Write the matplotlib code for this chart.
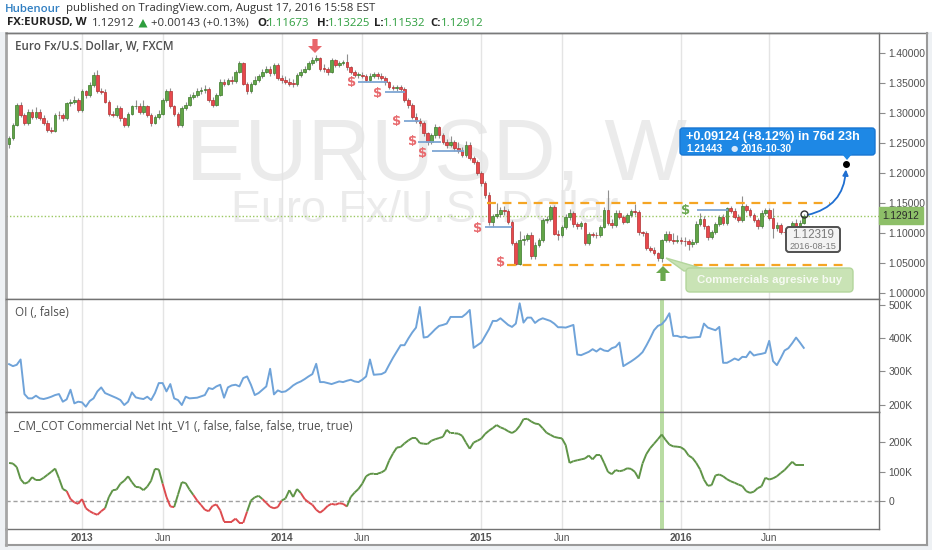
import numpy as np
import matplotlib
matplotlib.use("Agg")
import matplotlib.pyplot as plt
from matplotlib.transforms import Affine2D
from matplotlib.patches import FancyBboxPatch, Polygon, FancyArrowPatch, Rectangle
from matplotlib.collections import LineCollection
from matplotlib.lines import Line2D

# ---------------- data (weekly bars, Aug 2012 .. Aug 2016) ----------------
first_open = 1.249
last_open = 1.11673
closes = [1.258,1.280,1.313,1.297,1.283,1.302,1.294,1.302,1.291,1.284,
          1.272,1.270,1.297,1.296,1.291,1.316,1.319,1.322,1.305,1.336,
          1.330,1.347,1.363,1.336,1.335,1.319,1.299,1.297,1.308,1.291,
          1.280,1.299,1.311,1.312,1.302,1.311,1.297,1.283,1.293,1.299,
          1.322,1.336,1.311,1.299,1.280,1.308,1.313,1.327,1.330,1.336,
          1.338,1.340,1.322,1.313,1.330,1.352,1.349,1.355,1.353,1.369,
          1.383,1.349,1.336,1.349,1.355,1.361,1.369,1.374,1.366,1.380,
          1.358,1.355,1.352,1.349,1.348,1.363,1.369,1.374,1.383,1.388,
          1.391,1.374,1.373,1.369,1.388,1.380,1.383,1.385,1.376,1.369,
          1.363,1.364,1.362,1.355,1.362,1.365,1.361,1.359,1.351,1.344,
          1.342,1.343,1.340,1.322,1.313,1.294,1.286,1.283,1.266,1.251,
          1.263,1.276,1.263,1.252,1.247,1.252,1.241,1.236,1.230,1.247,
          1.225,1.219,1.200,1.183,1.164,1.119,1.128,1.131,1.139,1.136,
          1.119,1.083,1.049,1.088,1.090,1.097,1.061,1.080,1.088,1.122,
          1.124,1.144,1.099,1.097,1.110,1.127,1.134,1.115,1.111,1.116,
          1.083,1.098,1.097,1.096,1.110,1.138,1.117,1.113,1.134,1.127,
          1.119,1.130,1.137,1.135,1.101,1.100,1.075,1.072,1.066,1.058,
          1.088,1.098,1.089,1.087,1.088,1.087,1.086,1.081,1.085,1.115,
          1.124,1.111,1.093,1.101,1.115,1.126,1.117,1.141,1.137,1.127,
          1.122,1.145,1.139,1.130,1.122,1.111,1.133,1.138,1.125,1.108,
          1.113,1.102,1.101,1.097,1.116,1.111,1.117,1.12912]
highs = [1.262,1.284,1.317,1.318,1.300,1.306,1.306,1.310,1.306,1.296,
         1.288,1.277,1.300,1.303,1.300,1.318,1.323,1.329,1.325,1.340,
         1.338,1.351,1.368,1.371,1.342,1.340,1.322,1.304,1.313,1.311,
         1.294,1.302,1.314,1.321,1.316,1.321,1.314,1.300,1.297,1.305,
         1.325,1.340,1.341,1.314,1.302,1.311,1.318,1.331,1.335,1.341,
         1.343,1.346,1.343,1.326,1.334,1.356,1.357,1.359,1.361,1.372,
         1.386,1.385,1.352,1.352,1.361,1.365,1.373,1.378,1.379,1.384,
         1.383,1.364,1.361,1.358,1.357,1.366,1.373,1.378,1.387,1.393,
         1.397,1.394,1.381,1.377,1.391,1.390,1.387,1.389,1.399,1.379,
         1.372,1.368,1.368,1.365,1.366,1.369,1.368,1.366,1.362,1.353,
         1.347,1.347,1.346,1.343,1.325,1.316,1.300,1.292,1.286,1.269,
         1.267,1.281,1.279,1.266,1.256,1.262,1.255,1.252,1.244,1.253,
         1.251,1.228,1.222,1.203,1.186,1.168,1.132,1.150,1.143,1.145,
         1.140,1.122,1.086,1.104,1.096,1.100,1.101,1.085,1.092,1.125,
         1.128,1.147,1.147,1.105,1.114,1.131,1.140,1.137,1.119,1.120,
         1.119,1.101,1.102,1.101,1.114,1.143,1.171,1.124,1.138,1.138,
         1.130,1.134,1.140,1.149,1.138,1.104,1.103,1.078,1.076,1.069,
         1.090,1.104,1.103,1.100,1.096,1.094,1.093,1.090,1.090,1.120,
         1.134,1.128,1.114,1.105,1.118,1.130,1.131,1.144,1.145,1.141,
         1.131,1.162,1.149,1.142,1.133,1.125,1.138,1.142,1.141,1.142,
         1.118,1.116,1.106,1.104,1.120,1.123,1.121,1.13225]
lows = [1.241,1.255,1.278,1.293,1.280,1.280,1.290,1.290,1.288,1.280,
        1.268,1.267,1.268,1.290,1.287,1.289,1.312,1.315,1.301,1.302,
        1.325,1.327,1.343,1.334,1.331,1.316,1.295,1.293,1.294,1.287,
        1.276,1.277,1.296,1.306,1.298,1.299,1.293,1.279,1.281,1.290,
        1.297,1.319,1.308,1.295,1.276,1.276,1.305,1.311,1.324,1.327,
        1.332,1.334,1.318,1.310,1.311,1.328,1.345,1.346,1.349,1.350,
        1.366,1.347,1.332,1.333,1.346,1.352,1.358,1.366,1.362,1.363,
        1.355,1.350,1.348,1.345,1.343,1.345,1.360,1.366,1.371,1.380,
        1.385,1.370,1.369,1.364,1.366,1.377,1.377,1.380,1.372,1.365,
        1.360,1.359,1.358,1.351,1.352,1.359,1.357,1.355,1.347,1.340,
        1.338,1.337,1.336,1.318,1.309,1.290,1.283,1.279,1.262,1.247,
        1.248,1.259,1.259,1.248,1.242,1.244,1.237,1.233,1.226,1.227,
        1.221,1.215,1.196,1.178,1.158,1.114,1.110,1.125,1.127,1.130,
        1.115,1.080,1.046,1.047,1.080,1.086,1.057,1.056,1.077,1.085,
        1.117,1.120,1.097,1.088,1.094,1.107,1.122,1.110,1.106,1.107,
        1.080,1.080,1.094,1.092,1.093,1.108,1.113,1.109,1.110,1.123,
        1.115,1.116,1.127,1.130,1.097,1.095,1.072,1.068,1.063,1.054,
        1.052,1.085,1.085,1.082,1.083,1.082,1.078,1.071,1.077,1.082,
        1.111,1.106,1.089,1.090,1.098,1.112,1.113,1.114,1.133,1.123,
        1.118,1.119,1.135,1.126,1.118,1.107,1.108,1.130,1.121,1.091,
        1.103,1.098,1.096,1.095,1.094,1.107,1.108,1.11532]

# Open interest (thousands)
oi = [322,316,320,336,232,219,219,227,219,217,
      220,224,229,232,209,216,245,204,209,207,
      194,211,219,240,252,235,230,225,220,214,
      199,209,237,222,219,217,224,214,235,265,
      265,240,262,219,214,199,224,219,220,221,
      225,229,250,247,255,260,221,252,258,260,
      255,280,285,260,229,235,245,255,308,231,
      243,238,240,248,258,265,270,277,285,292,
      323,268,268,265,262,266,270,268,272,275,
      270,268,275,285,336,290,291,292,298,320,
      341,360,379,379,399,417,432,494,402,404,
      415,427,437,440,444,464,464,464,464,473,
      485,371,379,387,407,427,452,452,460,450,
      440,434,444,505,447,462,462,446,455,460,
      456,452,444,433,433,432,436,440,351,349,
      354,359,367,360,369,363,361,370,374,387,
      316,323,330,338,347,358,378,400,424,437,
      442,455,475,407,407,403,405,401,402,403,
      404,444,432,428,424,434,326,326,332,339,
      334,344,343,360,348,351,353,356,392,331,
      319,340,363,370,385,402,387,371]

# Commercial net positions (thousands)
cot = [130,128,116,75,60,65,82,72,72,80,
       90,100,111,78,42,35,8,-3,-8,8,
       -23,-33,-40,-45,-33,-23,15,38,40,60,
       70,85,65,49,48,38,50,70,110,108,
       60,15,-17,-19,23,65,62,40,22,3,
       -12,-28,-33,-15,-10,-30,-68,-68,-68,-58,
       -72,-72,-34,3,14,19,8,-5,-18,-23,
       -19,3,10,38,15,42,28,8,-3,-11,
       -28,-38,-28,-15,-8,-11,-6,-8,-17,15,
       30,42,60,85,93,94,94,98,106,138,
       162,182,184,196,206,214,214,197,195,194,
       205,210,214,218,242,230,230,229,222,199,
       178,199,205,212,228,239,248,258,250,245,
       237,231,239,255,278,279,270,263,261,247,
       232,225,218,215,213,190,130,136,139,142,
       145,155,142,157,157,130,100,92,106,102,
       105,112,110,100,77,128,160,180,195,210,
       226,208,192,186,185,183,174,155,147,130,
       108,74,53,55,88,91,85,75,68,63,
       57,52,35,29,33,45,51,80,74,78,
       85,96,106,120,134,122,122,122]
cot_red_spans = [(16, 25), (41, 43), (49, 62), (67, 71), (77, 88)]

tick_idx = [19, 40, 71, 92, 123, 144, 175, 198]
tick_lbl = ['2013', 'Jun', '2014', 'Jun', '2015', 'Jun', '2016', 'Jun']
price_ticks = [1.00, 1.05, 1.10, 1.15, 1.20, 1.25, 1.30, 1.35, 1.40]
oi_ticks = [200, 300, 400, 500]
cot_ticks = [0, 100, 200]

# signal annotations (bar index, price)
sell_idx = [89.3, 96.1, 101.0, 105.0, 107.8, 122.1, 127.9]
sell_px = [1.350, 1.333, 1.285, 1.252, 1.233, 1.108, 1.050]
buy_idx = [176.3]
buy_px = [1.137]
stop_lines = [(90.9, 98.4, 1.352), (97.9, 103.1, 1.335), (102.9, 107.0, 1.287),
              (106.5, 112.5, 1.252), (110.2, 118.5, 1.236), (124.0, 131.0, 1.110),
              (179.2, 187.2, 1.138)]
range_top, range_top_span = 1.1495, (124.5, 213.8)
range_bot, range_bot_span = 1.047, (129.7, 217.7)
highlight_bar = 170
target_idx, target_px = 218, 1.21443

# ---------------- figure ----------------
plt.rcParams['font.family'] = ['Liberation Sans', 'DejaVu Sans']
W, H = 932, 550
fig = plt.figure(figsize=(W / 100, H / 100), dpi=100)
fig.patch.set_facecolor('#eef1f4')
PX = Affine2D().scale(0.01, -0.01).translate(0, H / 100) + fig.dpi_scale_trans

fig.add_artist(Rectangle((0, 0), W, 32, transform=PX, fc='white', ec='none', zorder=-10))
fig.add_artist(Rectangle((6, 33), 921, 512, transform=PX, fc='white', ec='none', zorder=-10))

ax1 = fig.add_axes([6 / W, 1 - 299 / H, 873 / W, 266 / H])
ax2 = fig.add_axes([6 / W, 1 - 412 / H, 873 / W, 113 / H])
ax3 = fig.add_axes([6 / W, 1 - 529 / H, 873 / W, 117 / H])

for ax in (ax1, ax2, ax3):
    ax.set_xlim(-0.8, 226.6)
    ax.set_facecolor('white')
    for s in ax.spines.values():
        s.set_color('#737373')
        s.set_linewidth(1.0)
    ax.spines['left'].set_color('#a6a6a6')
    ax.spines['left'].set_linewidth(2.0)
    ax.yaxis.tick_right()
    ax.tick_params(axis='y', direction='out', length=4, width=0.8, color='#8c8c8c',
                   labelsize=7.4, labelcolor='#505050', pad=3)
    ax.set_xticks(tick_idx)
    ax.tick_params(axis='x', length=0, labelbottom=False)
    ax.grid(axis='x', color='#e4e4e4', lw=1)
    ax.set_axisbelow(True)

# ---- main price panel ----
x = np.arange(len(closes))
o = np.array([first_open] + closes[:-1])
o[-1] = last_open
c = np.array(closes)
h = np.maximum(np.array(highs), np.maximum(o, c))
l = np.minimum(np.array(lows), np.minimum(o, c))
up = c >= o

ax1.set_ylim(0.99, 1.4333)
ax1.set_yticks(price_ticks)
ax1.set_yticklabels(['%.5f' % v for v in price_ticks])

ax1.text(437, 180, 'EURUSD, W', transform=PX, fontsize=63, color='#ebebeb',
         ha='center', va='baseline', zorder=0)
ax1.text(425, 222, 'Euro Fx/U.S. Dollar', transform=PX, fontsize=32.4, color='#ebebeb',
         ha='center', va='baseline', zorder=0)

ax1.vlines(x, l, h, color='#8f8f8f', lw=0.8, zorder=3)
body_bot = np.minimum(o, c)
body_h = np.maximum(np.abs(c - o), 0.0012)
ax1.bar(x[up], body_h[up], bottom=body_bot[up], width=0.7, color='#62a447',
        edgecolor='#3b7a2a', lw=0.5, zorder=4)
ax1.bar(x[~up], body_h[~up], bottom=body_bot[~up], width=0.7, color='#e8484c',
        edgecolor='#b23030', lw=0.5, zorder=4)

ax1.axhline(c[-1], color='#9bc862', ls=(0, (1, 1.5)), lw=1.0, zorder=2)

ax1.hlines(range_top, *range_top_span, color='#f5a524', lw=1.6, ls=(0, (4, 3)), zorder=5)
ax1.hlines(range_bot, *range_bot_span, color='#f5a524', lw=1.6, ls=(0, (4, 3)), zorder=5)

for a, b, lev in stop_lines:
    ax1.hlines(lev, a, b, color='#7ea6d3', lw=1.3, zorder=5)
for xi, yi in zip(sell_idx, sell_px):
    ax1.text(xi, yi, '$', color='#e86a6e', fontsize=9.5, fontweight='bold',
             family='DejaVu Sans', ha='center', va='center', zorder=6)
for xi, yi in zip(buy_idx, buy_px):
    ax1.text(xi, yi, '$', color='#6aa84f', fontsize=9.5, fontweight='bold',
             family='DejaVu Sans', ha='center', va='center', zorder=6)

ax1.text(15, 46, 'Euro Fx/U.S. Dollar, W, FXCM', transform=PX, fontsize=8.4,
         family='Open Sans', fontweight='semibold', color='#4f4f4f', va='center', ha='left')


def arrow_poly(cx, tip, base, tail, half_head=7.0, half_stem=2.6):
    return [(cx - half_stem, tail), (cx + half_stem, tail), (cx + half_stem, base),
            (cx + half_head, base), (cx, tip), (cx - half_head, base), (cx - half_stem, base)]


fig.add_artist(Polygon(arrow_poly(315, 53, 46, 39), closed=True, transform=PX,
               fc='#e8666b', ec='none'))
fig.add_artist(Polygon(arrow_poly(663, 266, 273, 281), closed=True, transform=PX,
               fc='#6aa84f', ec='none'))

# projection arrow and callout
ax1.add_patch(FancyArrowPatch((x[-1] + 0.3, c[-1]), (target_idx, target_px - 0.004),
              connectionstyle='arc3,rad=0.4', arrowstyle='-|>', mutation_scale=8,
              color='#1f6fd1', lw=1.3, zorder=7))
ax1.plot([target_idx], [target_px], 'o', color='black', ms=4, zorder=8)
ax1.plot([x[-1]], [c[-1] + 0.002], 'o', mfc='none', mec='#333', ms=5, mew=1, zorder=8)

fig.add_artist(FancyBboxPatch((680, 128), 195, 27, transform=PX,
               boxstyle='round,pad=0,rounding_size=3', fc='#1e88e5', ec='#1976d2', lw=1))
fig.add_artist(Polygon([(842, 154), (852, 154), (847, 160)], closed=True, transform=PX,
               fc='#1e88e5', ec='none'))
fig.text(686, 137, '+0.09124 (+8.12%) in 76d 23h', transform=PX, fontsize=9.1,
         fontweight='bold', color='white', va='center', ha='left')
fig.text(686, 149, '1.21443', transform=PX, fontsize=7.2, fontweight='bold',
         color='white', va='center', ha='left')
fig.text(731, 149, '\u25cf', transform=PX, fontsize=6, family='DejaVu Sans',
         color='#d6e8fb', va='center', ha='left')
fig.text(741, 149, '2016-10-30', transform=PX, fontsize=7.2, fontweight='bold',
         color='white', va='center', ha='left')

# last bar info box
fig.add_artist(FancyBboxPatch((786, 227), 54, 25, transform=PX,
               boxstyle='round,pad=0,rounding_size=3', fc='#f3f3f3', ec='#505050', lw=1.4))
fig.text(813, 235, '1.12319', transform=PX, fontsize=8.4, color='#7a7a7a',
         va='center', ha='center')
fig.text(813, 246.5, '2016-08-15', transform=PX, fontsize=6.6, color='#7a7a7a',
         va='center', ha='center')

# commercials callout
fig.add_artist(Polygon([(666, 258), (684, 271), (704, 269)], closed=True, transform=PX,
               fc='#c9e3b5', ec='#b3d69c', lw=1))
fig.add_artist(FancyBboxPatch((686, 268), 167, 24, transform=PX,
               boxstyle='round,pad=0,rounding_size=4', fc='#c9e3b5', ec='#b3d69c', lw=1))
fig.text(769.5, 280, 'Commercials agresive buy', transform=PX, fontsize=8.2,
         fontweight='bold', color='#f6faf2', va='center', ha='center')

# last price tag
ax1.text(1.004, c[-1], '%.5f' % c[-1], transform=ax1.get_yaxis_transform(),
         fontsize=7.4, color='#2b2b2b', va='center', ha='left', zorder=10,
         bbox=dict(boxstyle='square,pad=0.32', fc='#8dbf68', ec='#8dbf68'))

# ---- OI panel ----
ax2.set_ylim(178, 518)
ax2.set_yticks(oi_ticks)
ax2.set_yticklabels(['%dK' % v for v in oi_ticks])
ax2.axvspan(highlight_bar - 0.4, highlight_bar + 0.5, color='#b9dca3', lw=0, zorder=1)
ax2.plot(x, oi, color='#6fa3d9', lw=1.4, zorder=3)
ax2.text(15, 313, 'OI (, false)', transform=PX, fontsize=8.4, family='Open Sans',
         color='#4f4f4f', va='center', ha='left')

# ---- COT panel ----
ax3.set_ylim(-93, 302)
ax3.set_yticks(cot_ticks)
ax3.set_yticklabels(['0' if v == 0 else '%dK' % v for v in cot_ticks])
ax3.axvspan(highlight_bar - 0.4, highlight_bar + 0.5, color='#b9dca3', lw=0, zorder=1)
ax3.axhline(0, color='#a0a0a0', lw=1, ls=(0, (3, 2)), zorder=2)
red_set = set()
for a, b in cot_red_spans:
    red_set.update(range(a, b + 1))
pts = np.column_stack([x, np.array(cot, dtype=float)])
segs = np.stack([pts[:-1], pts[1:]], axis=1)
cols = ['#dd4b4f' if (k + 1) in red_set else '#5f9447' for k in range(len(segs))]
ax3.add_collection(LineCollection(segs, colors=cols, lw=1.4, zorder=3))
ax3.text(13, 426, '_CM_COT Commercial Net Int_V1 (, false, false, false, true, true)',
         transform=PX, fontsize=8.4, family='Open Sans', color='#4f4f4f',
         va='center', ha='left')

ax3.tick_params(axis='x', labelbottom=True, labelsize=7.4, labelcolor='#555555', pad=3)
ax3.set_xticklabels(tick_lbl)
for t, s in zip(ax3.get_xticklabels(), tick_lbl):
    if s != 'Jun':
        t.set_fontweight('bold')

# frame lines
for (x0, y0, x1, y1, col, lw) in [(6, 33, 927, 33, '#7a7a7a', 1.0),
                                  (6, 545, 927, 545, '#9a9a9a', 1.5),
                                  (927, 33, 927, 545, '#9a9a9a', 1.5),
                                  (6, 529, 6, 545, '#a6a6a6', 2.0)]:
    fig.add_artist(Line2D([x0, x1], [y0, y1], transform=PX, color=col, lw=lw))

# ---- header ----
fig.text(5, 9, 'Hubenour', transform=PX, fontsize=8.2, family='Open Sans',
         fontweight='semibold', color='#2f7ec2', va='center', ha='left')
fig.text(66, 9, 'published on TradingView.com, August 17, 2016 15:58 EST', transform=PX,
         fontsize=8.2, family='Open Sans', color='#333333', va='center', ha='left')
hdr = [(7, 'FX:EURUSD, W', '#222222', 'bold'),
       (92, '1.12912', '#333333', 'normal'),
       (151, '+0.00143 (+0.13%)', '#333333', 'normal'),
       (257, 'O:', '#222222', 'bold'), (267, '1.11673', '#2e9e3e', 'normal'),
       (317, 'H:', '#222222', 'bold'), (328, '1.13225', '#2e9e3e', 'normal'),
       (374, 'L:', '#222222', 'bold'), (383, '1.11532', '#2e9e3e', 'normal'),
       (430, 'C:', '#222222', 'bold'), (441, '1.12912', '#2e9e3e', 'normal')]
for xx, s, col, wt in hdr:
    fig.text(xx, 23, s, transform=PX, fontsize=8.2, family='Open Sans', fontweight=wt,
             color=col, va='center', ha='left')
fig.add_artist(Polygon([(138.5, 27.5), (147.5, 27.5), (143, 19)], closed=True,
               transform=PX, fc='#2e9e3e', ec='none'))

fig.savefig('out.png', dpi=100, facecolor=fig.get_facecolor())
